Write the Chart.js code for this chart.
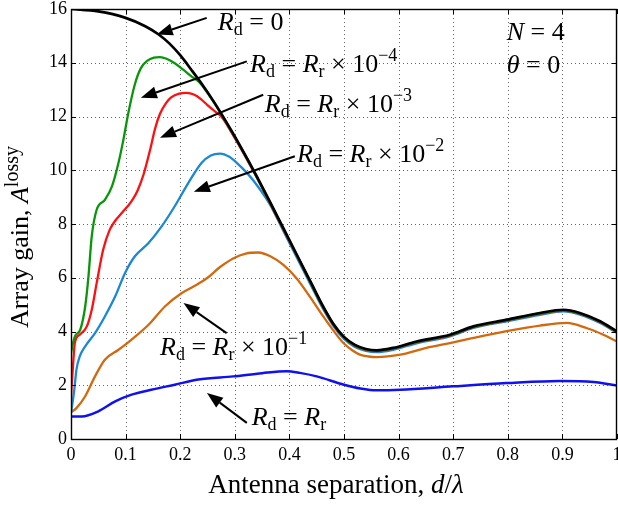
<!DOCTYPE html>
<html><head><meta charset="utf-8">
<script src="https://cdn.jsdelivr.net/npm/chart.js@4/dist/chart.umd.min.js"></script>
<style>html,body{margin:0;padding:0;background:#fff;}</style>
</head><body>
<canvas id="c" width="618" height="510"></canvas>
<script>
// ---- data ----
const xTickValues = [0,0.1,0.2,0.3,0.4,0.5,0.6,0.7,0.8,0.9,1];
const xTickLabels = ['0','0.1','0.2','0.3','0.4','0.5','0.6','0.7','0.8','0.9','1'];
const yTickLabels = ['0','2','4','6','8','10','12','14','16'];

// R_d = 0
const lossless_x = [0,0.05,0.1,0.136,0.16,0.18,0.2,0.22,0.24,0.26,0.276,0.293,0.31,0.325,0.34,0.364,0.388,0.415,0.441,0.46,0.48,0.5,0.52,0.54,0.56,0.59,0.633,0.694,0.737,0.798,0.859,0.902,0.932,0.969,1.0];
const lossless_y = [16,15.91,15.67,15.36,15.06,14.72,14.28,13.75,13.2,12.6,12.08,11.5,10.9,10.35,9.78,8.84,7.88,6.8,5.76,5.0,4.3,3.8,3.5,3.35,3.3,3.39,3.63,3.88,4.19,4.44,4.69,4.81,4.69,4.38,4.0];

// R_d = R_r x 10^-4
const r4_x = [0,0.004,0.008,0.017,0.026,0.032,0.038,0.047,0.062,0.075,0.087,0.096,0.105,0.117,0.128,0.14,0.152,0.163,0.175,0.19,0.205,0.22,0.235,0.245,0.26,0.276,0.293,0.31,0.325,0.34,0.364,0.388,0.415,0.441,0.46,0.48,0.5,0.52,0.54,0.56,0.59,0.633,0.694,0.737,0.798,0.859,0.902,0.932,0.969,1.0];
const r4_y = [3.2,3.6,3.85,4.07,4.93,6.05,7.54,8.53,8.9,9.4,10.28,11.14,12.13,13.2,13.8,14.08,14.19,14.21,14.15,13.98,13.75,13.5,13.28,13.02,12.58,12.06,11.48,10.88,10.33,9.76,8.82,7.86,6.78,5.74,4.98,4.28,3.78,3.48,3.33,3.28,3.37,3.61,3.86,4.17,4.42,4.67,4.79,4.67,4.36,3.98];

// R_d = R_r x 10^-3
const r3_x = [0,0.004,0.007,0.016,0.029,0.038,0.047,0.059,0.071,0.082,0.093,0.111,0.122,0.133,0.145,0.154,0.163,0.174,0.184,0.198,0.212,0.225,0.238,0.25,0.263,0.276,0.293,0.31,0.325,0.34,0.364,0.388,0.415,0.441,0.46,0.48,0.5,0.52,0.54,0.56,0.59,0.633,0.694,0.737,0.798,0.859,0.902,0.932,0.969,1.0];
const r3_y = [1.59,2.83,3.57,3.88,4.19,4.81,5.8,7.05,7.79,8.15,8.41,8.85,9.25,9.85,10.77,11.55,12.1,12.5,12.72,12.85,12.88,12.82,12.65,12.42,12.2,11.98,11.44,10.85,10.3,9.74,8.8,7.84,6.76,5.72,4.96,4.27,3.77,3.47,3.32,3.27,3.36,3.6,3.85,4.16,4.41,4.66,4.78,4.66,4.35,3.97];

// R_d = R_r x 10^-2
const r2_x = [0,0.006,0.010,0.016,0.026,0.044,0.062,0.081,0.099,0.117,0.142,0.166,0.19,0.215,0.239,0.256,0.273,0.29,0.305,0.32,0.334,0.364,0.388,0.415,0.441,0.46,0.48,0.5,0.52,0.54,0.56,0.59,0.633,0.694,0.737,0.798,0.859,0.902,0.932,0.969,1.0];
const r2_y = [0.97,1.83,2.58,3.07,3.45,3.94,4.56,5.31,6.18,6.80,7.29,7.91,8.66,9.53,10.27,10.55,10.62,10.5,10.25,9.95,9.62,8.74,7.78,6.7,5.66,4.9,4.22,3.72,3.42,3.28,3.23,3.32,3.56,3.82,4.13,4.38,4.62,4.75,4.63,4.32,3.95];

// R_d = R_r x 10^-1
const r1_x = [0,0.01,0.026,0.044,0.062,0.087,0.111,0.142,0.172,0.203,0.225,0.25,0.273,0.297,0.32,0.343,0.365,0.389,0.413,0.438,0.462,0.48,0.499,0.515,0.529,0.545,0.56,0.603,0.651,0.694,0.737,0.798,0.859,0.908,0.944,0.975,1.0];
const r1_y = [1.0,1.15,1.59,2.33,2.95,3.32,3.70,4.25,4.93,5.43,5.68,6.0,6.4,6.72,6.9,6.94,6.8,6.48,5.98,5.28,4.56,4.05,3.57,3.3,3.14,3.07,3.05,3.14,3.39,3.57,3.76,4.01,4.22,4.32,4.13,3.88,3.63];

// R_d = R_r
const r0_x = [0,0.02,0.05,0.081,0.111,0.147,0.19,0.233,0.297,0.35,0.395,0.419,0.45,0.5,0.53,0.56,0.603,0.7,0.798,0.896,0.957,1.0];
const r0_y = [0.84,0.84,1.03,1.40,1.65,1.83,2.02,2.21,2.33,2.45,2.52,2.46,2.33,2.02,1.88,1.81,1.83,1.96,2.08,2.16,2.12,1.99];

const seriesNames = ['R_d = 0','R_d = R_r x 1e-4','R_d = R_r x 1e-3','R_d = R_r x 1e-2','R_d = R_r x 1e-1','R_d = R_r'];

function pts(xs, ys){ return xs.map((v,i)=>({x:v,y:ys[i]})); }

const SERIF = '"Liberation Serif", "DejaVu Serif", serif';

function ds(label, xs, ys, color, w){
  return {label, data: pts(xs,ys), borderColor: color, backgroundColor: color,
    borderWidth: w, pointRadius: 0, fill: false, cubicInterpolationMode: 'monotone'};
}

// annotation texts (parts: [text, style])
const annTexts = [
  [['R','i'],['d','sub'],[' = 0','n']],
  [['R','i'],['d','sub'],[' = ','n'],['R','i'],['r','sub'],[' × 10','n'],['−4','sup']],
  [['R','i'],['d','sub'],[' = ','n'],['R','i'],['r','sub'],[' × 10','n'],['−3','sup']],
  [['R','i'],['d','sub'],[' = ','n'],['R','i'],['r','sub'],[' × 10','n'],['−2','sup']],
  [['R','i'],['d','sub'],[' = ','n'],['R','i'],['r','sub'],[' × 10','n'],['−1','sup']],
  [['R','i'],['d','sub'],[' = ','n'],['R','i'],['r','sub']],
  [['N','i'],[' = 4','n']],
  [['θ','i'],[' = 0','n']]
];
// anchor of text (data coords, left/baseline)
const annPos = [[0.269,15.23],[0.328,13.67],[0.355,12.18],[0.414,10.32],[0.163,3.14],[0.331,0.53],[0.798,14.86],[0.798,13.63]];
// arrows: [fromX, fromY, tipX, tipY] in data coords
const arrows = [
  [0.2486,15.67,0.157,15.05],
  [0.322,14.05,0.128,12.70],
  [0.352,12.81,0.163,11.21],
  [0.410,10.52,0.225,9.20],
  [0.285,3.94,0.206,5.06],
  [0.322,0.60,0.249,1.71]
];

const MAIN = 26;
function fontFor(style, base, scl){
  const b = base || MAIN, s = Math.round(b*(scl||0.7));
  if (style==='i') return `italic ${b}px ${SERIF}`;
  if (style==='sub' || style==='sup') return `${s}px ${SERIF}`;
  return `${b}px ${SERIF}`;
}
function richWidth(ctx, parts, base, scl){
  let w=0; for (const [t,s] of parts){ ctx.font=fontFor(s,base,scl); w+=ctx.measureText(t).width; } return w;
}
function drawRich(ctx, parts, x, y, base, scl){
  const b = base || MAIN;
  let cx = x;
  for (const [t,s] of parts){
    ctx.font = fontFor(s,b,scl);
    let dy = 0;
    if (s==='sub') dy = b*0.2;
    if (s==='sup') dy = -b*0.4;
    ctx.fillText(t, cx, y+dy);
    cx += ctx.measureText(t).width;
  }
}

const deco = {
  id: 'deco',
  beforeDatasetsDraw(chart){
    const {ctx, chartArea:a, scales:{x,y}} = chart;
    ctx.save();
    ctx.strokeStyle = 'rgba(0,0,0,0.6)'; ctx.lineWidth = 1;
    ctx.setLineDash([1,3]);
    ctx.beginPath();
    for (const v of xTickValues.slice(1,-1)){
      const px = Math.round(x.getPixelForValue(v))+0.5;
      ctx.moveTo(px, a.bottom); ctx.lineTo(px, a.top);
    }
    for (const t of yTickLabels.slice(1,-1)){
      const py = Math.round(y.getPixelForValue(+t))+0.5;
      ctx.moveTo(a.left, py); ctx.lineTo(a.right, py);
    }
    ctx.stroke();
    ctx.restore();
  },
  afterDatasetsDraw(chart){
    const {ctx, chartArea:a, scales:{x,y}} = chart;
    ctx.save();
    ctx.strokeStyle = '#000'; ctx.lineWidth = 1;
    ctx.beginPath();
    for (const v of xTickValues){
      const px = Math.round(x.getPixelForValue(v))+0.5;
      ctx.moveTo(px, a.bottom); ctx.lineTo(px, a.bottom-5);
      ctx.moveTo(px, a.top); ctx.lineTo(px, a.top+5);
    }
    for (const t of yTickLabels){
      const py = Math.round(y.getPixelForValue(+t))+0.5;
      ctx.moveTo(a.left, py); ctx.lineTo(a.left+5, py);
      ctx.moveTo(a.right, py); ctx.lineTo(a.right-5, py);
    }
    ctx.stroke();
    ctx.lineWidth = 1.4;
    ctx.strokeRect(Math.round(a.left)+0.5, Math.round(a.top)+0.5, Math.round(a.right-a.left)-1, Math.round(a.bottom-a.top));
    // arrows
    ctx.fillStyle = '#000'; ctx.strokeStyle = '#000'; ctx.lineWidth = 2;
    for (const [fx,fy,tx,ty] of arrows){
      const x1=x.getPixelForValue(fx), y1=y.getPixelForValue(fy), x2=x.getPixelForValue(tx), y2=y.getPixelForValue(ty);
      const ang = Math.atan2(y2-y1, x2-x1), L=16, W=6;
      const bx = x2 - L*Math.cos(ang), by = y2 - L*Math.sin(ang);
      ctx.beginPath(); ctx.moveTo(x1,y1); ctx.lineTo(bx,by); ctx.stroke();
      ctx.beginPath();
      ctx.moveTo(x2,y2);
      ctx.lineTo(bx + W*Math.sin(ang), by - W*Math.cos(ang));
      ctx.lineTo(bx - W*Math.sin(ang), by + W*Math.cos(ang));
      ctx.closePath(); ctx.fill();
    }
    // annotation texts
    ctx.textBaseline = 'alphabetic'; ctx.textAlign = 'left';
    annTexts.forEach((parts,i)=>{
      const [dx,dy] = annPos[i];
      drawRich(ctx, parts, x.getPixelForValue(dx), y.getPixelForValue(dy));
    });
    // axis titles
    const xt = [['Antenna separation, ','n'],['d','i'],['/','n'],['λ','i']];
    const wx = richWidth(ctx, xt, 27);
    drawRich(ctx, xt, 336 - wx/2, 493, 27);
    const yt = [['Array gain, ','n'],['A','i'],['lossy','sup']];
    const wy = richWidth(ctx, yt, 26, 0.75);
    ctx.translate(28, 237);
    ctx.rotate(-Math.PI/2);
    drawRich(ctx, yt, -wy/2, 0, 26, 0.75);
    ctx.restore();
  }
};

new Chart(document.getElementById('c'), {
  type: 'line',
  data: { datasets: [
    ds(seriesNames[0], lossless_x, lossless_y, '#000000', 2.7),
    ds(seriesNames[1], r4_x, r4_y, '#0a960a', 2.3),
    ds(seriesNames[2], r3_x, r3_y, '#ff1010', 2.3),
    ds(seriesNames[3], r2_x, r2_y, '#1a88d4', 2.3),
    ds(seriesNames[4], r1_x, r1_y, '#d2690e', 2.3),
    ds(seriesNames[5], r0_x, r0_y, '#1010f0', 2.5)
  ]},
  options: {
    responsive: false, animation: false, devicePixelRatio: 1,
    layout: { padding: { left: 0, right: 1, top: 9, bottom: 0 } },
    plugins: { legend: { display: false }, tooltip: { enabled: false } },
    scales: {
      x: {
        type: 'linear', min: 0, max: 1,
        afterBuildTicks: s => { s.ticks = xTickValues.map(v=>({value:v})); },
        afterFit: s => { s.height = 71; s.paddingLeft = 0; s.paddingRight = 0; },
        ticks: { callback: (v,i) => xTickLabels[i], color: '#000', padding: 5, maxRotation: 0, autoSkip: false,
                 font: { family: SERIF, size: 18 } },
        grid: { display: false, drawTicks: false, tickLength: 0 },
        border: { display: false }
      },
      y: {
        type: 'linear', min: 0, max: 16,
        afterBuildTicks: s => { s.ticks = yTickLabels.map(t=>({value:+t})); },
        afterFit: s => { s.width = 71; s.paddingTop = 0; s.paddingBottom = 0; },
        ticks: { callback: (v,i) => yTickLabels[i], color: '#000', padding: 4, autoSkip: false,
                 font: { family: SERIF, size: 18 } },
        grid: { display: false, drawTicks: false, tickLength: 0 },
        border: { display: false }
      }
    }
  },
  plugins: [deco]
});
</script>
</body></html>
